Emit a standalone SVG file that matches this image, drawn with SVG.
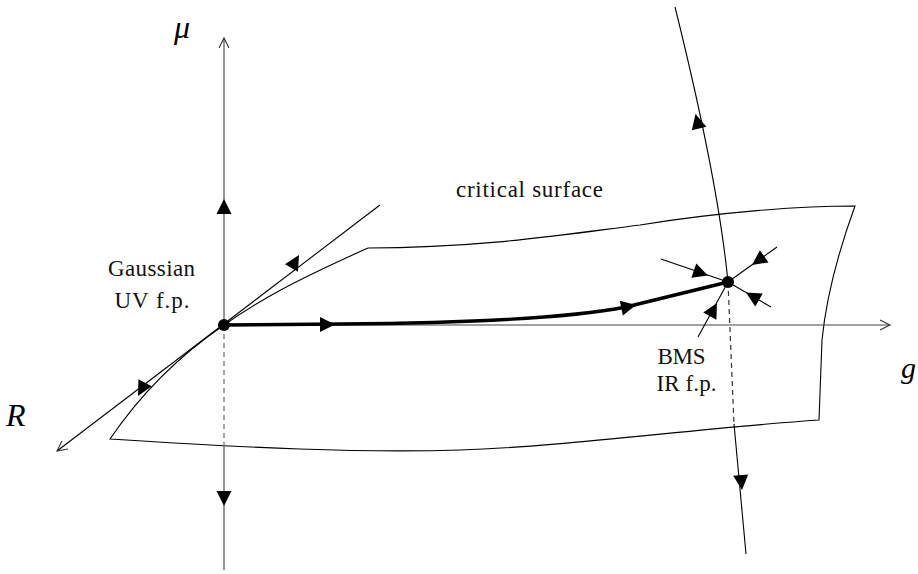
<svg xmlns="http://www.w3.org/2000/svg" xmlns:xlink="http://www.w3.org/1999/xlink" width="918" height="574" viewBox="0 0 918 574">
<style>
.thin{fill:none;stroke:#000;stroke-width:1.1}
.axis{fill:none;stroke:#6a6a6a;stroke-width:1.4}
.gaxis{fill:none;stroke:#444;stroke-width:1.2}
.dash{fill:none;stroke:#333;stroke-width:1.2;stroke-dasharray:5,4}
.dashg{fill:none;stroke:#777;stroke-width:1.3;stroke-dasharray:5,4}
.thick{fill:none;stroke:#000;stroke-width:3.4}
.lbl{font-family:"Liberation Serif","Times New Roman",serif;font-size:23px;fill:#111}
.math{font-family:"Liberation Serif","Times New Roman",serif;font-style:italic;fill:#000}
</style>
<defs>
<path id="ah" d="M0,0 L-15,-7.5 L-15,7.5 Z" fill="#000"/>
<marker id="open" markerUnits="userSpaceOnUse" markerWidth="14" markerHeight="14" refX="0" refY="0" viewBox="-12 -7 14 14" orient="auto">
<path d="M-10,-5 L0,0 L-10,5" fill="none" stroke="#333" stroke-width="1.1"/>
</marker>
</defs>

<g id="critical-surface">
<path class="thin" d="M368,248 C480,248 560,235 640,225 C720,212 800,206 855,206 Q828,280 822,340 L819,420 C700,428 560,447 460,450 C360,453 250,448 110,439 C140,395 180,355 224,325 C260,300 290,283 368,248"/>
</g>

<g id="connectors">
<path class="axis" d="M224,325 L224,38" marker-end="url(#open)"/>
<path class="dashg" d="M224,325 L224,446"/>
<path class="axis" d="M224,446 L224,570"/>
<path class="gaxis" d="M224,325 L890,325" marker-end="url(#open)"/>
<path class="thin" d="M380,205 L57,451" marker-end="url(#open)"/>
<path class="thick" d="M224,325 L340,324 C470,323 575,317 626,307 L728,282"/>
<path class="thin" d="M675,7 Q718,180 728,282"/>
<path class="dash" d="M728,282 L734,424"/>
<path class="thin" d="M734,424 L746,554"/>
<path class="thin" d="M661,259 L728,282"/>
<path class="thin" d="M777,247 L728,282"/>
<path class="thin" d="M771,307 L728,282"/>
<path class="thin" d="M698,337 L728,282"/>
<use xlink:href="#ah" transform="translate(224,199) rotate(-90)"/>
<use xlink:href="#ah" transform="translate(224,506) rotate(90)"/>
<use xlink:href="#ah" transform="translate(335,324.5) rotate(0)"/>
<use xlink:href="#ah" transform="translate(636,305) rotate(-12)"/>
<use xlink:href="#ah" transform="translate(695.5,114) rotate(-104)"/>
<use xlink:href="#ah" transform="translate(742,490) rotate(85)"/>
<use xlink:href="#ah" transform="translate(299,255) rotate(-60)"/>
<use xlink:href="#ah" transform="translate(138,396) rotate(118)"/>
<use xlink:href="#ah" transform="translate(708,275.5) rotate(19)"/>
<use xlink:href="#ah" transform="translate(752,265) rotate(144.5)"/>
<use xlink:href="#ah" transform="translate(746,292.5) rotate(-150)"/>
<use xlink:href="#ah" transform="translate(717,303) rotate(-61.4)"/>
</g>

<g id="gaussian-fp">
<circle cx="224" cy="325" r="6" fill="#000"/>
<text class="lbl" x="151.5" y="276" text-anchor="middle" textLength="87">Gaussian</text>
<text class="lbl" x="152" y="308" text-anchor="middle" textLength="75">UV f.p.</text>
</g>

<g id="bms-fp">
<circle cx="728" cy="282" r="6" fill="#000"/>
<text class="lbl" x="681.5" y="364" text-anchor="middle" textLength="48">BMS</text>
<text class="lbl" x="686.5" y="391" text-anchor="middle" textLength="60">IR f.p.</text>
</g>

<g id="labels">
<text class="lbl" x="456" y="197" textLength="147">critical surface</text>
<text class="math" x="174" y="38" font-size="32">μ</text>
<text class="math" x="901" y="378" font-size="30">g</text>
<text class="math" x="6" y="426" font-size="32">R</text>
</g>
</svg>
